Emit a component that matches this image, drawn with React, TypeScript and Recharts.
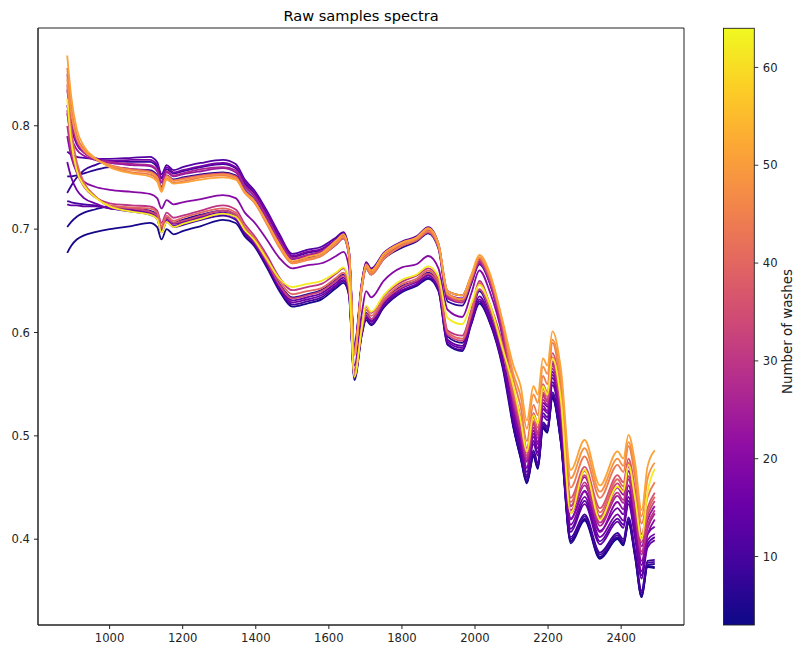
import { LineChart, Line, XAxis, YAxis, ReferenceArea } from 'recharts'

if (typeof document !== 'undefined') document.body.style.margin = '0'

// wavelength grid (nm)
const wavelengths = [
  884, 895, 910, 930, 960, 1000, 1060, 1110, 1130, 1142,
  1156, 1175, 1200, 1250, 1310, 1345, 1370, 1395, 1430, 1465,
  1500, 1540, 1580, 1620, 1640, 1655, 1670, 1690, 1702, 1716,
  1750, 1800, 1840, 1872, 1900, 1925, 1965, 1990, 2012, 2040,
  2075, 2105, 2125, 2142, 2160, 2172, 2186, 2198, 2212, 2235,
  2262, 2300, 2342, 2390, 2406, 2420, 2438, 2456, 2472, 2492,
]

// absorbance per sample
const wash4 = [
  0.677, 0.684, 0.690, 0.694, 0.697, 0.700, 0.703, 0.706, 0.702, 0.690,
  0.700, 0.695, 0.698, 0.703, 0.709, 0.706, 0.693, 0.684, 0.663, 0.640,
  0.625, 0.628, 0.632, 0.643, 0.648, 0.636, 0.554, 0.597, 0.612, 0.607,
  0.624, 0.639, 0.645, 0.652, 0.640, 0.588, 0.582, 0.608, 0.628, 0.610,
  0.567, 0.508, 0.478, 0.454, 0.480, 0.468, 0.507, 0.503, 0.536, 0.493,
  0.396, 0.418, 0.381, 0.400, 0.394, 0.415, 0.383, 0.344, 0.373, 0.372,
]
const wash5 = [
  0.702, 0.707, 0.712, 0.716, 0.719, 0.722, 0.720, 0.718, 0.714, 0.701,
  0.711, 0.706, 0.709, 0.714, 0.718, 0.714, 0.700, 0.690, 0.670, 0.647,
  0.634, 0.637, 0.641, 0.651, 0.656, 0.642, 0.559, 0.601, 0.619, 0.613,
  0.630, 0.645, 0.650, 0.658, 0.647, 0.596, 0.590, 0.616, 0.640, 0.620,
  0.578, 0.509, 0.479, 0.455, 0.481, 0.469, 0.508, 0.504, 0.537, 0.494,
  0.398, 0.419, 0.382, 0.401, 0.395, 0.416, 0.384, 0.344, 0.374, 0.373,
]
const wash6 = [
  0.751, 0.751, 0.752, 0.754, 0.757, 0.760, 0.758, 0.757, 0.752, 0.741,
  0.752, 0.748, 0.750, 0.753, 0.755, 0.752, 0.738, 0.729, 0.708, 0.685,
  0.668, 0.672, 0.675, 0.685, 0.691, 0.674, 0.581, 0.642, 0.662, 0.656,
  0.671, 0.682, 0.688, 0.696, 0.681, 0.630, 0.626, 0.647, 0.666, 0.648,
  0.598, 0.510, 0.480, 0.456, 0.482, 0.470, 0.509, 0.505, 0.538, 0.495,
  0.398, 0.420, 0.383, 0.402, 0.396, 0.417, 0.385, 0.346, 0.375, 0.376,
]
const wash8 = [
  0.735, 0.742, 0.750, 0.757, 0.762, 0.766, 0.765, 0.765, 0.760, 0.749,
  0.758, 0.754, 0.756, 0.760, 0.763, 0.759, 0.744, 0.735, 0.714, 0.691,
  0.673, 0.677, 0.680, 0.690, 0.695, 0.678, 0.586, 0.646, 0.666, 0.660,
  0.675, 0.686, 0.691, 0.700, 0.684, 0.635, 0.631, 0.651, 0.669, 0.650,
  0.601, 0.514, 0.484, 0.460, 0.486, 0.474, 0.513, 0.509, 0.542, 0.499,
  0.402, 0.424, 0.387, 0.406, 0.400, 0.421, 0.389, 0.350, 0.379, 0.380,
]
const wash10 = [
  0.727, 0.726, 0.725, 0.724, 0.723, 0.720, 0.717, 0.714, 0.710, 0.697,
  0.707, 0.702, 0.704, 0.709, 0.713, 0.709, 0.695, 0.685, 0.665, 0.642,
  0.627, 0.630, 0.634, 0.645, 0.650, 0.637, 0.556, 0.598, 0.614, 0.608,
  0.625, 0.640, 0.646, 0.653, 0.641, 0.589, 0.583, 0.609, 0.630, 0.611,
  0.569, 0.512, 0.482, 0.458, 0.484, 0.472, 0.511, 0.507, 0.540, 0.497,
  0.400, 0.422, 0.385, 0.404, 0.398, 0.419, 0.387, 0.348, 0.377, 0.378,
]
const wash12 = [
  0.775, 0.772, 0.770, 0.769, 0.768, 0.768, 0.769, 0.770, 0.765, 0.753,
  0.762, 0.757, 0.760, 0.764, 0.767, 0.763, 0.748, 0.738, 0.718, 0.695,
  0.676, 0.680, 0.683, 0.692, 0.697, 0.680, 0.588, 0.648, 0.668, 0.662,
  0.677, 0.688, 0.693, 0.702, 0.686, 0.640, 0.636, 0.655, 0.671, 0.653,
  0.605, 0.520, 0.492, 0.465, 0.495, 0.484, 0.522, 0.518, 0.552, 0.510,
  0.410, 0.437, 0.398, 0.420, 0.414, 0.437, 0.404, 0.365, 0.395, 0.402,
]
const wash14 = [
  0.724, 0.723, 0.723, 0.722, 0.722, 0.721, 0.719, 0.716, 0.712, 0.700,
  0.710, 0.705, 0.707, 0.712, 0.716, 0.712, 0.698, 0.688, 0.668, 0.645,
  0.631, 0.634, 0.638, 0.648, 0.653, 0.640, 0.558, 0.600, 0.617, 0.611,
  0.628, 0.643, 0.649, 0.656, 0.645, 0.593, 0.587, 0.613, 0.635, 0.616,
  0.574, 0.517, 0.489, 0.462, 0.492, 0.481, 0.519, 0.515, 0.549, 0.507,
  0.407, 0.434, 0.395, 0.417, 0.411, 0.434, 0.401, 0.362, 0.392, 0.399,
]
const wash16 = [
  0.765, 0.750, 0.738, 0.730, 0.725, 0.720, 0.718, 0.715, 0.711, 0.698,
  0.708, 0.703, 0.706, 0.711, 0.715, 0.711, 0.697, 0.687, 0.666, 0.643,
  0.629, 0.632, 0.636, 0.646, 0.651, 0.639, 0.557, 0.599, 0.615, 0.610,
  0.627, 0.641, 0.647, 0.655, 0.643, 0.591, 0.585, 0.611, 0.632, 0.614,
  0.572, 0.526, 0.498, 0.475, 0.505, 0.494, 0.532, 0.528, 0.562, 0.520,
  0.420, 0.447, 0.408, 0.430, 0.424, 0.447, 0.414, 0.375, 0.405, 0.412,
]
const wash17 = [
  0.820, 0.798, 0.782, 0.774, 0.769, 0.766, 0.767, 0.767, 0.762, 0.750,
  0.760, 0.755, 0.757, 0.761, 0.764, 0.760, 0.746, 0.736, 0.716, 0.693,
  0.674, 0.678, 0.681, 0.690, 0.695, 0.679, 0.587, 0.647, 0.667, 0.661,
  0.675, 0.687, 0.692, 0.701, 0.685, 0.637, 0.633, 0.653, 0.670, 0.651,
  0.603, 0.524, 0.496, 0.469, 0.499, 0.488, 0.526, 0.522, 0.556, 0.514,
  0.414, 0.441, 0.402, 0.424, 0.418, 0.441, 0.408, 0.369, 0.399, 0.405,
]
const wash20 = [
  0.790, 0.770, 0.755, 0.746, 0.741, 0.738, 0.736, 0.734, 0.730, 0.720,
  0.728, 0.724, 0.726, 0.729, 0.733, 0.730, 0.716, 0.707, 0.690, 0.672,
  0.662, 0.665, 0.667, 0.674, 0.678, 0.663, 0.568, 0.618, 0.640, 0.634,
  0.650, 0.663, 0.666, 0.674, 0.662, 0.622, 0.615, 0.638, 0.660, 0.640,
  0.596, 0.526, 0.497, 0.469, 0.502, 0.492, 0.529, 0.524, 0.559, 0.519,
  0.419, 0.446, 0.407, 0.436, 0.429, 0.452, 0.419, 0.379, 0.404, 0.419,
]
const wash23 = [
  0.812, 0.790, 0.777, 0.771, 0.767, 0.764, 0.762, 0.761, 0.756, 0.745,
  0.755, 0.751, 0.753, 0.756, 0.759, 0.755, 0.741, 0.732, 0.711, 0.688,
  0.671, 0.674, 0.678, 0.687, 0.693, 0.676, 0.583, 0.644, 0.664, 0.658,
  0.673, 0.684, 0.690, 0.698, 0.683, 0.633, 0.629, 0.649, 0.667, 0.649,
  0.600, 0.539, 0.509, 0.478, 0.512, 0.503, 0.540, 0.534, 0.570, 0.530,
  0.432, 0.460, 0.420, 0.450, 0.443, 0.466, 0.434, 0.393, 0.418, 0.432,
]
const wash26 = [
  0.835, 0.805, 0.785, 0.774, 0.768, 0.765, 0.763, 0.762, 0.757, 0.746,
  0.756, 0.752, 0.754, 0.758, 0.760, 0.757, 0.742, 0.733, 0.712, 0.689,
  0.672, 0.675, 0.679, 0.688, 0.693, 0.677, 0.584, 0.645, 0.665, 0.659,
  0.673, 0.685, 0.690, 0.699, 0.683, 0.634, 0.630, 0.650, 0.668, 0.650,
  0.600, 0.532, 0.503, 0.475, 0.508, 0.498, 0.535, 0.530, 0.565, 0.525,
  0.425, 0.452, 0.413, 0.442, 0.435, 0.458, 0.425, 0.385, 0.410, 0.425,
]
const wash30 = [
  0.800, 0.775, 0.755, 0.741, 0.731, 0.725, 0.723, 0.722, 0.718, 0.706,
  0.716, 0.711, 0.713, 0.718, 0.723, 0.719, 0.705, 0.694, 0.675, 0.653,
  0.641, 0.644, 0.647, 0.657, 0.662, 0.647, 0.563, 0.604, 0.625, 0.619,
  0.635, 0.649, 0.655, 0.662, 0.652, 0.602, 0.597, 0.622, 0.650, 0.628,
  0.589, 0.535, 0.506, 0.478, 0.511, 0.501, 0.538, 0.533, 0.568, 0.528,
  0.428, 0.455, 0.416, 0.445, 0.438, 0.461, 0.428, 0.388, 0.413, 0.428,
]
const wash33 = [
  0.815, 0.782, 0.760, 0.744, 0.732, 0.722, 0.720, 0.717, 0.713, 0.701,
  0.711, 0.706, 0.708, 0.713, 0.718, 0.714, 0.700, 0.689, 0.669, 0.646,
  0.633, 0.636, 0.640, 0.650, 0.655, 0.642, 0.560, 0.601, 0.618, 0.613,
  0.630, 0.644, 0.650, 0.657, 0.646, 0.598, 0.592, 0.617, 0.642, 0.622,
  0.582, 0.537, 0.510, 0.481, 0.514, 0.504, 0.542, 0.534, 0.572, 0.532,
  0.432, 0.462, 0.422, 0.454, 0.447, 0.470, 0.440, 0.397, 0.422, 0.437,
]
const wash36 = [
  0.850, 0.815, 0.790, 0.777, 0.768, 0.762, 0.758, 0.756, 0.751, 0.740,
  0.752, 0.747, 0.749, 0.752, 0.754, 0.751, 0.737, 0.728, 0.707, 0.684,
  0.668, 0.671, 0.675, 0.685, 0.691, 0.675, 0.582, 0.643, 0.663, 0.657,
  0.672, 0.684, 0.689, 0.697, 0.682, 0.636, 0.630, 0.651, 0.670, 0.652,
  0.606, 0.545, 0.518, 0.488, 0.522, 0.512, 0.550, 0.542, 0.580, 0.540,
  0.440, 0.470, 0.430, 0.462, 0.455, 0.478, 0.448, 0.405, 0.430, 0.445,
]
const wash40 = [
  0.840, 0.796, 0.765, 0.745, 0.732, 0.723, 0.721, 0.720, 0.716, 0.703,
  0.713, 0.708, 0.711, 0.716, 0.720, 0.716, 0.702, 0.692, 0.672, 0.650,
  0.637, 0.640, 0.643, 0.653, 0.658, 0.644, 0.560, 0.603, 0.622, 0.616,
  0.632, 0.647, 0.652, 0.660, 0.649, 0.600, 0.594, 0.620, 0.648, 0.627,
  0.588, 0.541, 0.514, 0.484, 0.518, 0.508, 0.546, 0.538, 0.576, 0.536,
  0.436, 0.466, 0.426, 0.458, 0.451, 0.474, 0.444, 0.401, 0.426, 0.441,
]
const wash44 = [
  0.856, 0.818, 0.790, 0.777, 0.768, 0.761, 0.755, 0.753, 0.748, 0.738,
  0.749, 0.745, 0.746, 0.750, 0.752, 0.749, 0.735, 0.726, 0.705, 0.682,
  0.667, 0.670, 0.674, 0.686, 0.692, 0.676, 0.580, 0.642, 0.662, 0.656,
  0.671, 0.684, 0.690, 0.698, 0.684, 0.638, 0.632, 0.653, 0.672, 0.655,
  0.610, 0.555, 0.528, 0.495, 0.530, 0.520, 0.558, 0.550, 0.590, 0.548,
  0.450, 0.480, 0.440, 0.472, 0.465, 0.490, 0.460, 0.415, 0.440, 0.455,
]
const wash48 = [
  0.845, 0.812, 0.788, 0.776, 0.768, 0.762, 0.757, 0.755, 0.750, 0.739,
  0.751, 0.747, 0.748, 0.751, 0.753, 0.750, 0.736, 0.728, 0.706, 0.683,
  0.667, 0.671, 0.675, 0.687, 0.693, 0.677, 0.579, 0.644, 0.664, 0.658,
  0.674, 0.686, 0.691, 0.700, 0.685, 0.637, 0.632, 0.653, 0.673, 0.656,
  0.610, 0.560, 0.538, 0.507, 0.540, 0.532, 0.567, 0.560, 0.593, 0.557,
  0.459, 0.488, 0.446, 0.478, 0.471, 0.494, 0.467, 0.422, 0.458, 0.474,
]
const wash51 = [
  0.868, 0.828, 0.797, 0.780, 0.769, 0.760, 0.754, 0.751, 0.746, 0.736,
  0.748, 0.744, 0.745, 0.748, 0.750, 0.748, 0.735, 0.727, 0.707, 0.685,
  0.669, 0.673, 0.677, 0.689, 0.695, 0.678, 0.578, 0.645, 0.666, 0.660,
  0.676, 0.687, 0.692, 0.701, 0.686, 0.640, 0.636, 0.656, 0.675, 0.658,
  0.612, 0.568, 0.548, 0.515, 0.548, 0.540, 0.575, 0.568, 0.601, 0.565,
  0.467, 0.496, 0.452, 0.485, 0.478, 0.501, 0.474, 0.428, 0.470, 0.486,
]
const wash62 = [
  0.826, 0.785, 0.757, 0.742, 0.731, 0.722, 0.717, 0.714, 0.710, 0.697,
  0.707, 0.702, 0.705, 0.710, 0.715, 0.712, 0.699, 0.690, 0.671, 0.652,
  0.644, 0.647, 0.650, 0.658, 0.663, 0.648, 0.557, 0.604, 0.626, 0.620,
  0.636, 0.651, 0.656, 0.664, 0.654, 0.614, 0.608, 0.628, 0.646, 0.628,
  0.585, 0.548, 0.515, 0.485, 0.520, 0.512, 0.548, 0.540, 0.575, 0.535,
  0.425, 0.467, 0.419, 0.451, 0.446, 0.472, 0.440, 0.400, 0.445, 0.468,
]

const samples = [
  { wash: 4, values: wash4 },
  { wash: 5, values: wash5 },
  { wash: 6, values: wash6 },
  { wash: 8, values: wash8 },
  { wash: 10, values: wash10 },
  { wash: 12, values: wash12 },
  { wash: 14, values: wash14 },
  { wash: 16, values: wash16 },
  { wash: 17, values: wash17 },
  { wash: 20, values: wash20 },
  { wash: 23, values: wash23 },
  { wash: 26, values: wash26 },
  { wash: 30, values: wash30 },
  { wash: 33, values: wash33 },
  { wash: 36, values: wash36 },
  { wash: 40, values: wash40 },
  { wash: 44, values: wash44 },
  { wash: 48, values: wash48 },
  { wash: 51, values: wash51 },
  { wash: 62, values: wash62 },
]

const xTicks = [1000, 1200, 1400, 1600, 1800, 2000, 2200, 2400]
const yTicks = [0.4, 0.5, 0.6, 0.7, 0.8]
const barTicks = [10, 20, 30, 40, 50, 60]
const washMin = 3
const washMax = 64

const PLASMA = [
  '#0d0887', '#41049d', '#6a00a8', '#8f0da4', '#b12a90', '#cc4778',
  '#e16462', '#f2844b', '#fca636', '#fcce25', '#f0f921',
]

function plasma(t: number) {
  const c = Math.max(0, Math.min(1, t)) * (PLASMA.length - 1)
  const i = Math.min(Math.floor(c), PLASMA.length - 2)
  const f = c - i
  const a = PLASMA[i], b = PLASMA[i + 1]
  const ch = (h: string, k: number) => parseInt(h.slice(1 + 2 * k, 3 + 2 * k), 16)
  const mix = (k: number) => Math.round(ch(a, k) + (ch(b, k) - ch(a, k)) * f)
  return `rgb(${mix(0)},${mix(1)},${mix(2)})`
}

const rows = wavelengths.map((wl, i) => {
  const row: Record<string, number> = { wl }
  samples.forEach((s) => {
    row['w' + s.wash] = s.values[i]
  })
  return row
})

const FONT = '"DejaVu Sans", sans-serif'
const tickStyle = { fontSize: 11.6, fill: '#222', fontFamily: FONT }

// colorbar geometry
const barX = 723.5
const barW = 30.8
const barTop = 28.3
const barH = 596.7
const barY = (v: number) => barTop + barH - ((v - washMin) / (washMax - washMin)) * barH

export default function App() {
  return (
    <div style={{ position: 'relative', width: 793, height: 648, overflow: 'hidden', background: '#fff', fontFamily: FONT }}>
      <div style={{ position: 'absolute', left: 0, top: 0 }}>
        <LineChart width={688} height={648} data={rows} margin={{ top: 28, right: 4, left: 8, bottom: 0 }}>
          <XAxis
            dataKey="wl"
            type="number"
            domain={[804, 2572]}
            ticks={xTicks}
            allowDataOverflow
            height={23}
            tick={tickStyle}
            tickSize={4}
            tickMargin={5}
            stroke="#222"
          />
          <YAxis
            type="number"
            domain={[0.317, 0.8946]}
            ticks={yTicks}
            allowDataOverflow
            width={30}
            tick={tickStyle}
            tickSize={4}
            tickMargin={4}
            tickFormatter={(v: number) => v.toFixed(1)}
            stroke="#222"
          />
          {samples.map((s) => (
            <Line
              key={s.wash}
              type="monotone"
              dataKey={'w' + s.wash}
              stroke={plasma((s.wash - washMin) / (washMax - washMin))}
              strokeWidth={1.8}
              dot={false}
              activeDot={false}
              isAnimationActive={false}
            />
          ))}
          <ReferenceArea x1={804} x2={2572} y1={0.317} y2={0.8946} fill="none" stroke="#222" strokeWidth={1} />
        </LineChart>
      </div>
      <svg width={793} height={648} style={{ position: 'absolute', left: 0, top: 0, pointerEvents: 'none' }}>
        <defs>
          <linearGradient id="plasmaBar" x1="0" y1="1" x2="0" y2="0">
            {PLASMA.map((c, i) => (
              <stop key={i} offset={i / (PLASMA.length - 1)} stopColor={c} />
            ))}
          </linearGradient>
        </defs>
        <text x={361} y={20.7} textAnchor="middle" fontSize={14.6} fontFamily={FONT} fill="#000">
          Raw samples spectra
        </text>
        <rect x={barX} y={barTop} width={barW} height={barH} fill="url(#plasmaBar)" stroke="#222" strokeWidth={0.9} />
        {barTicks.map((v) => (
          <g key={v}>
            <line x1={barX + barW} x2={barX + barW + 4} y1={barY(v)} y2={barY(v)} stroke="#222" strokeWidth={0.9} />
            <text x={barX + barW + 8.5} y={barY(v)} dy="0.36em" fontSize={11.6} fontFamily={FONT} fill="#222">
              {v}
            </text>
          </g>
        ))}
        <text
          x={791.5}
          y={331.5}
          transform="rotate(-90 791.5 331.5)"
          textAnchor="middle"
          fontSize={13.4}
          fontFamily={FONT}
          fill="#222"
        >
          Number of washes
        </text>
      </svg>
    </div>
  )
}
